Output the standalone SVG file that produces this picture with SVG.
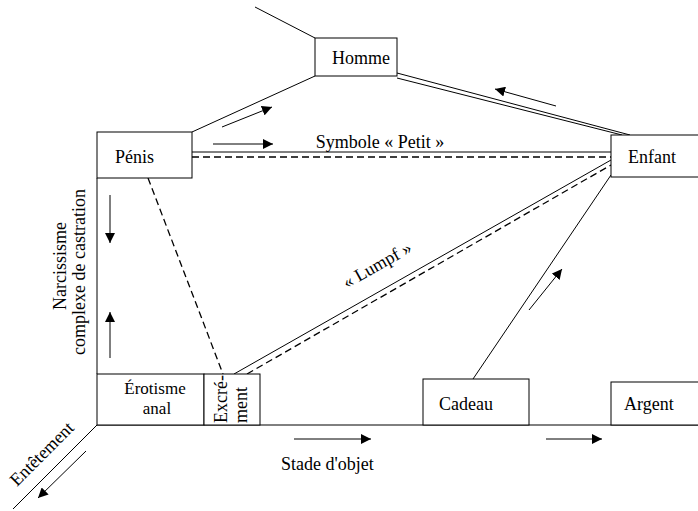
<svg xmlns="http://www.w3.org/2000/svg" width="698" height="511" viewBox="0 0 698 511">
<defs>
<marker id="ah" viewBox="0 0 10 10" refX="10" refY="5" markerWidth="10" markerHeight="10" markerUnits="userSpaceOnUse" orient="auto">
<path d="M0,0 L10,5 L0,10 z" fill="#000"/>
</marker>
</defs>
<style>
text{font-family:"Liberation Serif","Times New Roman",serif;font-size:18px;fill:#000}
.sm{font-size:17px}
.box{fill:#fff;stroke:#000;stroke-width:1}
.ln{stroke:#000;stroke-width:1;fill:none}
.dash{stroke:#000;stroke-width:1.3;fill:none;stroke-dasharray:7,4}
.arr{stroke:#000;stroke-width:1;fill:none;marker-end:url(#ah)}
</style>
<rect width="698" height="511" fill="#fff"/>
<g id="connectors">
<line class="ln" x1="255" y1="7" x2="315" y2="38"/>
<line class="ln" x1="192" y1="132" x2="315" y2="76"/>
<line class="ln" x1="397" y1="73" x2="630" y2="135"/>
<line class="ln" x1="397" y1="78" x2="622" y2="135"/>
<line class="ln" x1="192" y1="152" x2="611" y2="152"/>
<line class="dash" x1="192" y1="157" x2="611" y2="157"/>
<line class="dash" x1="148" y1="178" x2="223" y2="374"/>
<line class="ln" x1="234" y1="374" x2="611" y2="160"/>
<line class="dash" x1="247" y1="374" x2="611" y2="165"/>
<line class="ln" x1="611" y1="175" x2="473" y2="379"/>
<line class="ln" x1="97" y1="178" x2="97" y2="374"/>
<line class="ln" x1="97" y1="425" x2="698" y2="425"/>
<line class="ln" x1="97" y1="425" x2="13" y2="509"/>
<line class="arr" x1="222" y1="127" x2="272" y2="107"/>
<line class="arr" x1="556" y1="106" x2="495" y2="89"/>
<line class="arr" x1="213" y1="144" x2="273" y2="144"/>
<line class="arr" x1="110" y1="195" x2="110" y2="243"/>
<line class="arr" x1="110" y1="358" x2="110" y2="312"/>
<line class="arr" x1="529" y1="310" x2="562" y2="269"/>
<line class="arr" x1="294" y1="439" x2="371" y2="439"/>
<line class="arr" x1="546" y1="439" x2="602" y2="439"/>
<line class="arr" x1="86" y1="451" x2="38" y2="498"/>
</g>
<g id="homme"><rect class="box" x="315" y="38" width="82" height="38"/><text x="332" y="64">Homme</text></g>
<g id="penis"><rect class="box" x="97" y="132" width="95" height="46"/><text x="115" y="163">Pénis</text></g>
<g id="enfant"><rect class="box" x="611" y="135" width="100" height="42"/><text x="628" y="163">Enfant</text></g>
<g id="erotisme"><rect class="box" x="97" y="374" width="107" height="51"/><text class="sm" x="155" y="394" text-anchor="middle">Érotisme</text><text class="sm" x="157" y="414" text-anchor="middle">anal</text></g>
<g id="excrement"><rect class="box" x="204" y="374" width="56" height="51"/><text transform="translate(227,423) rotate(-90)">Excré-</text><text transform="translate(247,423) rotate(-90)">ment</text></g>
<g id="cadeau"><rect class="box" x="423" y="379" width="106" height="46"/><text x="439" y="410">Cadeau</text></g>
<g id="argent"><rect class="box" x="611" y="382" width="100" height="43"/><text x="624" y="410">Argent</text></g>
<g id="labels">
<text x="380" y="148" text-anchor="middle">Symbole « Petit »</text>
<text x="281" y="470">Stade d'objet</text>
<text transform="translate(380,270) rotate(-29.5)" text-anchor="middle">« Lumpf »</text>
<text transform="translate(66,266) rotate(-90)" text-anchor="middle">Narcissisme</text>
<text transform="translate(85,272) rotate(-90)" text-anchor="middle">complexe de castration</text>
<text transform="translate(46,458) rotate(-45)" text-anchor="middle">Entêtement</text>
</g>
</svg>
